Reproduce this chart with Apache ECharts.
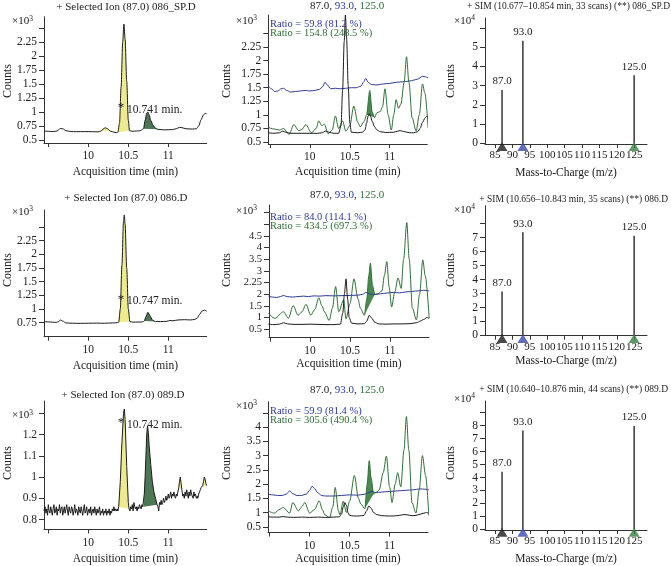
<!DOCTYPE html>
<html><head><meta charset="utf-8">
<script src="https://cdn.jsdelivr.net/npm/echarts@6/dist/echarts.min.js"></script>
<style>html,body{margin:0;padding:0;background:#fff}#c{width:671px;height:566px}</style>
</head><body><div id="c"></div>
<script>
// ---------------- DATA (counts in x10^3 for chromatograms, x10^4 for spectra) -------------
const chromTicks = [9.5, 10, 10.5, 11];
const chromLabels = [10, 10.5, 11];
const mzTicks = [85, 90, 95, 100, 105, 110, 115, 120, 125];
const mzIons = [87, 93, 125];

// Row 1: 086_SP.D
const p1Ion87 = [[9.446,0.66],[9.5,0.655],[9.56,0.65],[9.61,0.66],[9.65,0.705],[9.68,0.7],[9.72,0.665],[9.78,0.65],[9.85,0.648],[9.95,0.65],[10.05,0.648],[10.12,0.645],[10.16,0.66],[10.19,0.7],[10.21,0.718],[10.24,0.7],[10.28,0.655],[10.32,0.64],[10.35,0.63],[10.37,0.64],[10.39,0.8],[10.41,1.45],[10.43,2.25],[10.445,2.57],[10.46,2.3],[10.48,1.55],[10.5,0.85],[10.515,0.665],[10.55,0.655],[10.6,0.66],[10.65,0.665],[10.69,0.7],[10.71,0.85],[10.73,0.98],[10.745,1.0],[10.76,0.95],[10.78,0.85],[10.81,0.76],[10.84,0.71],[10.87,0.69],[10.95,0.68],[11.05,0.685],[11.1,0.7],[11.14,0.725],[11.17,0.72],[11.22,0.7],[11.3,0.695],[11.35,0.7],[11.38,0.75],[11.41,0.86],[11.44,0.95],[11.46,0.975],[11.48,0.965]];
const p1Fills = [[10.16,10.28,'y'],[10.37,10.515,'y'],[10.69,10.87,'g']];

const p2Ion87 = [[9.48,0.67],[9.55,0.66],[9.62,0.67],[9.66,0.7],[9.7,0.68],[9.76,0.66],[9.9,0.66],[10.0,0.66],[10.1,0.66],[10.15,0.67],[10.2,0.7],[10.24,0.68],[10.3,0.66],[10.36,0.66],[10.39,0.8],[10.41,1.45],[10.43,2.35],[10.445,2.84],[10.46,2.4],[10.48,1.55],[10.5,0.85],[10.52,0.68],[10.6,0.67],[10.66,0.68],[10.69,0.72],[10.71,0.85],[10.73,0.98],[10.745,1.02],[10.76,0.97],[10.78,0.88],[10.81,0.78],[10.84,0.72],[10.88,0.69],[10.95,0.675],[11.05,0.68],[11.1,0.7],[11.13,0.71],[11.17,0.695],[11.25,0.67],[11.3,0.67],[11.35,0.69],[11.38,0.75],[11.41,0.86],[11.44,0.94],[11.46,0.97],[11.48,0.96]];
const p2Ion93 = [[9.48,1.53],[9.52,1.48],[9.56,1.43],[9.6,1.44],[9.64,1.48],[9.67,1.49],[9.71,1.45],[9.76,1.42],[9.82,1.43],[9.88,1.44],[9.94,1.45],[10.0,1.44],[10.06,1.45],[10.12,1.47],[10.16,1.52],[10.19,1.6],[10.22,1.55],[10.26,1.48],[10.32,1.49],[10.38,1.48],[10.45,1.49],[10.52,1.5],[10.58,1.5],[10.64,1.53],[10.67,1.6],[10.7,1.67],[10.73,1.6],[10.77,1.56],[10.84,1.55],[10.92,1.57],[11.0,1.58],[11.08,1.6],[11.16,1.61],[11.24,1.62],[11.3,1.64],[11.35,1.66],[11.41,1.71],[11.45,1.7],[11.48,1.68]];
const p2Ion125 = [[9.48,0.77],[9.55,0.74],[9.62,0.72],[9.67,0.75],[9.74,0.64],[9.8,0.82],[9.86,0.71],[9.9,0.73],[9.95,0.82],[10.02,0.67],[10.08,0.75],[10.11,0.89],[10.15,0.8],[10.18,0.83],[10.23,0.65],[10.28,0.72],[10.32,0.98],[10.36,0.75],[10.41,0.89],[10.45,0.7],[10.5,0.8],[10.55,1.16],[10.6,0.86],[10.63,0.78],[10.68,0.88],[10.71,1.0],[10.75,1.45],[10.78,1.05],[10.81,0.95],[10.84,1.04],[10.88,1.06],[10.91,1.15],[10.94,1.48],[10.98,1.0],[11.02,0.72],[11.05,1.0],[11.08,1.28],[11.11,1.12],[11.14,1.2],[11.18,1.6],[11.21,2.07],[11.24,1.6],[11.28,0.95],[11.33,0.7],[11.37,1.0],[11.41,1.57],[11.44,1.4],[11.48,0.76]];
const p2Fills = [[10.71,10.81,'m']];
const p3Counts = [2.78, 5.34, 3.54];

// Row 2: 086.D
const p4Ion87 = [[9.446,0.77],[9.5,0.765],[9.55,0.76],[9.6,0.755],[9.63,0.77],[9.65,0.8],[9.68,0.78],[9.72,0.745],[9.8,0.74],[9.9,0.738],[10.0,0.74],[10.1,0.742],[10.2,0.74],[10.3,0.745],[10.36,0.75],[10.38,0.76],[10.4,1.0],[10.42,1.8],[10.44,2.6],[10.45,2.72],[10.46,2.55],[10.48,1.75],[10.5,1.0],[10.52,0.77],[10.56,0.76],[10.62,0.762],[10.68,0.765],[10.7,0.78],[10.72,0.86],[10.745,0.94],[10.77,0.88],[10.8,0.8],[10.84,0.77],[10.9,0.77],[10.98,0.775],[11.02,0.79],[11.06,0.785],[11.12,0.8],[11.2,0.805],[11.28,0.8],[11.33,0.81],[11.36,0.83],[11.39,0.9],[11.42,0.96],[11.45,0.98],[11.48,0.96]];
const p4Fills = [[10.38,10.52,'y'],[10.7,10.84,'g']];

const p5Ion87 = [[9.48,0.72],[9.55,0.7],[9.62,0.72],[9.67,0.78],[9.72,0.73],[9.8,0.71],[9.9,0.71],[10.0,0.72],[10.1,0.71],[10.2,0.7],[10.3,0.7],[10.38,0.72],[10.41,1.2],[10.43,2.0],[10.45,2.66],[10.47,1.8],[10.49,1.0],[10.52,0.76],[10.6,0.73],[10.68,0.74],[10.71,0.85],[10.74,1.1],[10.77,0.98],[10.81,0.8],[10.86,0.73],[10.95,0.72],[11.05,0.73],[11.15,0.73],[11.25,0.74],[11.33,0.78],[11.38,0.85],[11.42,0.92],[11.46,1.0],[11.49,0.98]];
const p5Ion93 = [[9.48,1.92],[9.53,1.88],[9.58,1.86],[9.63,1.9],[9.67,1.95],[9.71,1.9],[9.78,1.88],[9.85,1.9],[9.92,1.92],[9.98,1.9],[10.05,1.93],[10.12,1.92],[10.2,1.94],[10.3,1.93],[10.4,1.94],[10.5,1.95],[10.6,1.96],[10.66,2.0],[10.7,2.08],[10.74,2.02],[10.8,1.98],[10.88,2.02],[10.96,2.05],[11.04,2.08],[11.12,2.06],[11.2,2.1],[11.28,2.12],[11.36,2.15],[11.42,2.17],[11.49,2.14]];
const p5Ion125 = [[9.48,1.19],[9.56,0.97],[9.67,1.25],[9.73,0.97],[9.79,1.51],[9.85,1.1],[9.9,1.25],[9.95,1.57],[10.01,1.1],[10.06,1.35],[10.11,1.85],[10.15,1.5],[10.18,1.25],[10.24,0.88],[10.28,1.4],[10.32,2.33],[10.36,1.25],[10.42,1.76],[10.45,0.95],[10.5,1.6],[10.55,2.66],[10.6,1.8],[10.63,1.4],[10.68,1.1],[10.71,1.8],[10.735,2.8],[10.755,3.33],[10.78,2.4],[10.81,2.0],[10.85,2.02],[10.9,2.15],[10.93,2.8],[10.96,3.4],[10.99,2.3],[11.02,1.45],[11.06,2.1],[11.1,2.7],[11.14,2.25],[11.17,3.5],[11.21,5.07],[11.24,3.5],[11.28,1.4],[11.33,0.9],[11.37,2.0],[11.41,3.47],[11.44,2.8],[11.49,0.97]];
const p5Fills = [[10.68,10.81,'m']];
const p6Counts = [3.14, 7.38, 7.14];

// Row 3: 089.D
const p7Ion87 = [[9.446,0.84],[9.45,0.85],[9.46,0.86],[9.47,0.83],[9.48,0.85],[9.49,0.82],[9.5,0.87],[9.51,0.84],[9.52,0.83],[9.53,0.86],[9.54,0.84],[9.55,0.82],[9.56,0.85],[9.57,0.87],[9.58,0.83],[9.59,0.84],[9.6,0.86],[9.61,0.82],[9.62,0.85],[9.63,0.84],[9.64,0.87],[9.65,0.83],[9.66,0.85],[9.67,0.86],[9.68,0.82],[9.69,0.84],[9.7,0.86],[9.71,0.83],[9.72,0.85],[9.73,0.87],[9.74,0.84],[9.75,0.82],[9.76,0.86],[9.77,0.84],[9.78,0.83],[9.79,0.86],[9.8,0.85],[9.81,0.82],[9.82,0.84],[9.83,0.87],[9.84,0.83],[9.85,0.85],[9.86,0.84],[9.87,0.82],[9.88,0.86],[9.89,0.84],[9.9,0.83],[9.91,0.86],[9.92,0.84],[9.93,0.82],[9.94,0.85],[9.95,0.87],[9.96,0.83],[9.97,0.84],[9.98,0.86],[9.99,0.82],[10.0,0.84],[10.01,0.85],[10.02,0.83],[10.03,0.86],[10.04,0.82],[10.05,0.84],[10.06,0.85],[10.07,0.83],[10.08,0.86],[10.09,0.84],[10.1,0.82],[10.11,0.85],[10.12,0.83],[10.13,0.84],[10.14,0.86],[10.15,0.82],[10.16,0.84],[10.17,0.83],[10.18,0.85],[10.19,0.82],[10.2,0.84],[10.21,0.83],[10.22,0.85],[10.23,0.82],[10.24,0.84],[10.25,0.83],[10.26,0.85],[10.27,0.82],[10.28,0.84],[10.29,0.83],[10.3,0.85],[10.31,0.84],[10.32,0.86],[10.33,0.84],[10.34,0.85],[10.35,0.84],[10.36,0.85],[10.37,0.84],[10.38,0.86],[10.4,0.98],[10.42,1.16],[10.44,1.3],[10.45,1.32],[10.46,1.27],[10.48,1.05],[10.5,0.88],[10.51,0.85],[10.52,0.84],[10.53,0.86],[10.54,0.85],[10.55,0.87],[10.56,0.84],[10.57,0.88],[10.58,0.86],[10.59,0.85],[10.6,0.86],[10.61,0.84],[10.62,0.86],[10.63,0.85],[10.64,0.87],[10.65,0.86],[10.66,0.85],[10.67,0.87],[10.68,0.86],[10.69,0.86],[10.7,0.92],[10.71,1.0],[10.72,1.1],[10.73,1.2],[10.74,1.24],[10.75,1.21],[10.76,1.15],[10.78,1.06],[10.8,0.98],[10.82,0.93],[10.84,0.9],[10.86,0.87],[10.87,0.86],[10.88,0.84],[10.89,0.88],[10.9,0.87],[10.91,0.89],[10.92,0.87],[10.93,0.88],[10.94,0.9],[10.95,0.88],[10.96,0.89],[10.97,0.91],[10.98,0.89],[10.99,0.9],[11.0,0.92],[11.01,0.9],[11.02,0.91],[11.03,0.93],[11.04,0.9],[11.05,0.92],[11.06,0.91],[11.07,0.93],[11.08,0.91],[11.09,0.9],[11.1,0.92],[11.11,0.91],[11.12,0.93],[11.13,0.95],[11.14,0.98],[11.15,1.0],[11.16,0.97],[11.17,0.94],[11.18,0.91],[11.19,0.92],[11.2,0.9],[11.21,0.93],[11.22,0.91],[11.23,0.94],[11.24,0.92],[11.25,0.9],[11.26,0.93],[11.27,0.91],[11.28,0.94],[11.29,0.92],[11.3,0.92],[11.31,0.9],[11.32,0.93],[11.33,0.91],[11.34,0.92],[11.35,0.9],[11.36,0.91],[11.37,0.9],[11.38,0.92],[11.39,0.93],[11.4,0.94],[11.41,0.95],[11.42,0.95],[11.43,0.96],[11.44,0.98],[11.45,1.0],[11.46,0.99],[11.47,0.97],[11.48,0.96]];
const p7Fills = [[10.38,10.51,'y'],[10.69,10.86,'g'],[11.13,11.17,'y'],[11.42,11.48,'y']];

const p8Ion87 = [[9.48,0.85],[9.55,0.84],[9.62,0.84],[9.67,0.86],[9.72,0.84],[9.8,0.83],[9.9,0.84],[10.0,0.83],[10.1,0.84],[10.2,0.83],[10.3,0.84],[10.37,0.85],[10.4,0.95],[10.42,1.2],[10.44,1.35],[10.46,1.25],[10.48,1.0],[10.5,0.9],[10.55,0.88],[10.62,0.88],[10.68,0.9],[10.71,1.05],[10.74,1.23],[10.77,1.15],[10.8,1.0],[10.84,0.93],[10.9,0.89],[10.98,0.88],[11.05,0.88],[11.12,0.9],[11.18,0.93],[11.22,0.92],[11.28,0.89],[11.33,0.9],[11.38,0.94],[11.43,0.98],[11.46,1.0],[11.49,0.97]];
const p8Ion93 = [[9.48,1.65],[9.54,1.62],[9.6,1.6],[9.66,1.6],[9.71,1.65],[9.75,1.76],[9.79,1.66],[9.84,1.6],[9.9,1.6],[9.96,1.65],[10.0,1.78],[10.03,1.92],[10.06,1.85],[10.1,1.7],[10.15,1.6],[10.2,1.58],[10.3,1.58],[10.4,1.6],[10.5,1.62],[10.6,1.61],[10.68,1.64],[10.74,1.7],[10.78,1.75],[10.82,1.7],[10.9,1.72],[11.0,1.74],[11.1,1.76],[11.2,1.78],[11.3,1.8],[11.38,1.83],[11.44,1.82],[11.49,1.8]];
const p8Ion125 = [[9.48,1.06],[9.56,0.98],[9.63,1.12],[9.67,1.18],[9.75,0.98],[9.79,1.35],[9.86,1.06],[9.9,1.2],[9.94,1.35],[10.0,0.98],[10.06,1.1],[10.12,1.41],[10.16,1.1],[10.19,0.92],[10.25,0.82],[10.29,1.2],[10.32,1.88],[10.36,1.06],[10.38,0.92],[10.42,1.4],[10.46,1.0],[10.5,1.4],[10.56,2.3],[10.61,1.5],[10.64,1.3],[10.69,1.13],[10.72,2.0],[10.745,2.82],[10.77,2.2],[10.8,1.65],[10.84,1.72],[10.87,1.8],[10.92,2.4],[10.96,2.98],[11.0,1.9],[11.03,1.35],[11.07,2.0],[11.1,2.4],[11.14,1.9],[11.18,3.2],[11.21,4.37],[11.24,3.2],[11.28,1.35],[11.33,0.98],[11.37,1.8],[11.41,3.0],[11.45,2.3],[11.49,0.9]];
const p8Fills = [[10.69,10.8,'m']];
const p9Counts = [4.45, 7.62, 7.98];

// ---------------- STYLE ----------------
const FONT = '"Liberation Serif","DejaVu Serif",serif';
const INK = '#222';
const BLACK = '#1c1c1c', BLUE = '#2d3a96', GREEN = '#2f6e36';
const FILL = {y: '#eeea8e', g: '#4d7753', m: '#4a8a52'};
const TRI = [BLACK, '#3a49ab', '#3a7d3e'];

const panels = [
  {l:44, t:16.7, w:162.7, h:126.3, x:[9.446,11.48], y:[0.446,2.70], yt:[0.5,0.75,1,1.25,1.5,1.75,2,2.25,2.5], yl:[0.5,0.75,1,1.25,1.5,1.75,2,2.25], ng:22.5, kind:'c'},
  {l:268.3, t:15, w:159, h:129, x:[9.48,11.47], y:[0.463,2.84], yt:[0.5,0.75,1,1.25,1.5,1.75,2,2.25,2.5], yl:[0.5,0.75,1,1.25,1.5,1.75,2,2.25], ng:21.5, kind:'c'},
  {l:485, t:18, w:162, h:126, x:[82.1,128.7], y:[-0.03,6.52], yt:[0,1,2,3,4,5,6], yl:[0,1,2,3,4,5], ng:23, kind:'s'},
  {l:44, t:210, w:162.7, h:126.7, x:[9.446,11.48], y:[0.494,2.81], yt:[0.75,1,1.25,1.5,1.75,2,2.25,2.5], yl:[0.75,1,1.25,1.5,1.75,2,2.25], ng:23, kind:'c'},
  {l:269, t:205, w:160, h:132.7, x:[9.4875,11.4875], y:[0.14,5.82], yt:[0.5,1,1.5,2,2.5,3,3.5,4,4.5,5,5.5], yl:[0.5,1,1.5,2,2.5,3,3.5,4,4.5], ng:19.5, kind:'c', relabel:{2.5:'2.25'}, fs:10.5},
  {l:485, t:205.7, w:162, h:130, x:[82.1,128.7], y:[-0.02,9.29], yt:[0,1,2,3,4,5,6,7,8], yl:[0,1,2,3,4,5,6,7], ng:19, kind:'s'},
  {l:44, t:401, w:162.7, h:130, x:[9.446,11.48], y:[0.753,1.358], yt:[0.8,0.9,1,1.1,1.2,1.3], yl:[0.8,0.9,1,1.1,1.2], ng:23.5, kind:'c'},
  {l:268, t:401.7, w:160, h:131.6, x:[9.48,11.48], y:[0.30,4.89], yt:[0.5,1,1.5,2,2.5,3,3.5,4,4.5], yl:[0.5,1,1.5,2,2.5,3,3.5,4], ng:20.5, kind:'c'},
  {l:485, t:401, w:162, h:129, x:[82.1,128.7], y:[-0.05,9.9], yt:[0,1,2,3,4,5,6,7,8,9], yl:[0,1,2,3,4,5,6,7,8], ng:23, kind:'s'}
];

const axisLineStyle = {color: '#333', width: 1};
const grids = [], xAxes = [], yAxes = [];
panels.forEach((p, i) => {
  grids.push({left: p.l, top: p.t, width: p.w, height: p.h, containLabel: false});
  const isS = p.kind === 's';
  xAxes.push({
    type: 'value', gridIndex: i, min: p.x[0], max: p.x[1],
    axisLine: {show: true, onZero: false, lineStyle: axisLineStyle},
    axisTick: {show: true, length: 4, lineStyle: axisLineStyle, customValues: isS ? mzTicks : chromTicks},
    axisLabel: {customValues: isS ? mzTicks : chromLabels, fontFamily: FONT, fontSize: isS ? 11 : 11.5, color: INK, margin: isS ? 6 : 7,
      hideOverlap: false, showMinLabel: true, showMaxLabel: true, formatter: v => String(v)},
    splitLine: {show: false},
    name: isS ? 'Mass-to-Charge (m/z)' : 'Acquisition time (min)', nameLocation: 'middle', nameGap: p.ng,
    nameTextStyle: {fontFamily: FONT, fontSize: 11.5, color: INK}
  });
  yAxes.push({
    type: 'value', gridIndex: i, min: p.y[0], max: p.y[1],
    axisLine: {show: true, onZero: false, lineStyle: axisLineStyle},
    axisTick: {show: true, length: 5, lineStyle: axisLineStyle, customValues: p.yt},
    axisLabel: {customValues: p.yl, fontFamily: FONT, fontSize: p.fs || 11.5, lineHeight: 9, color: INK, margin: 7,
      hideOverlap: false, showMinLabel: true, showMaxLabel: true,
      formatter: v => (p.relabel && p.relabel[v]) ? p.relabel[v] : String(v)},
    splitLine: {show: false}
  });
});

const series = [];
function trace(i, data, color, smooth) {
  series.push({type: 'line', xAxisIndex: i, yAxisIndex: i, data: data, symbol: 'none', showSymbol: false,
    smooth: smooth, smoothMonotone: 'x', lineStyle: {color: color, width: 1}, z: 4, silent: true, clip: true});
}
function fills(i, data, list) {
  list.forEach(f => {
    const pts = data.filter(d => d[0] >= f[0] - 1e-9 && d[0] <= f[1] + 1e-9);
    series.push({type: 'custom', xAxisIndex: i, yAxisIndex: i, data: pts, clip: true, z: 2, silent: true,
      encode: {x: 0, y: 1},
      renderItem: function (params, api) {
        if (params.dataIndex !== 0) return null;
        return {type: 'polygon', shape: {points: pts.map(d => api.coord(d))}, style: {fill: FILL[f[2]], stroke: null}};
      }});
  });
}
function spectrum(i, counts) {
  series.push({type: 'bar', xAxisIndex: i, yAxisIndex: i, barWidth: 1.4, silent: true,
    data: mzIons.map((m, k) => [m, counts[k]]), itemStyle: {color: '#2a2a2a'},
    label: {show: true, position: 'top', distance: 3, fontFamily: FONT, fontSize: 11, color: INK,
      formatter: p => p.value[0].toFixed(1)}});
  mzIons.forEach((m, k) => {
    series.push({type: 'scatter', xAxisIndex: i, yAxisIndex: i, data: [[m, 0]], symbol: 'triangle',
      symbolSize: [11, 9], symbolOffset: [0, 3], itemStyle: {color: TRI[k]}, clip: false, z: 6, silent: true});
  });
}

fills(0, p1Ion87, p1Fills); trace(0, p1Ion87, BLACK, 0.3);
fills(1, p2Ion125, p2Fills); trace(1, p2Ion93, BLUE, 0.3); trace(1, p2Ion125, GREEN, 0.3); trace(1, p2Ion87, BLACK, 0.3);
spectrum(2, p3Counts);
fills(3, p4Ion87, p4Fills); trace(3, p4Ion87, BLACK, 0.3);
fills(4, p5Ion125, p5Fills); trace(4, p5Ion93, BLUE, 0.3); trace(4, p5Ion125, GREEN, 0.3); trace(4, p5Ion87, BLACK, 0.3);
spectrum(5, p6Counts);
fills(6, p7Ion87, p7Fills); trace(6, p7Ion87, BLACK, false);
fills(7, p8Ion125, p8Fills); trace(7, p8Ion93, BLUE, 0.3); trace(7, p8Ion125, GREEN, 0.3); trace(7, p8Ion87, BLACK, 0.3);
spectrum(8, p9Counts);

// ---------------- TEXT ----------------
const g = [];
function txt(x, y, text, opt) {
  opt = opt || {};
  g.push({type: 'text', x: x, y: y, rotation: opt.rot || 0, silent: true, z: 10,
    style: Object.assign({text: text, fontFamily: FONT, fontSize: opt.size || 11, fill: opt.color || INK,
      align: opt.align || 'center', verticalAlign: 'middle'}, opt.rich ? {rich: opt.rich} : {})});
}
const sup = {s: {fontFamily: FONT, fontSize: 7.5, fill: INK, verticalAlign: 'top', padding: [0, 0, 5, 0]}};
const ionRich = {k: {fontFamily: FONT, fontSize: 11, fill: INK}, b: {fontFamily: FONT, fontSize: 11, fill: BLUE}, gg: {fontFamily: FONT, fontSize: 11, fill: GREEN}};

txt(126, 7, '+ Selected Ion (87.0) 086_SP.D');
txt(126, 198, '+ Selected Ion (87.0) 086.D');
txt(123, 395, '+ Selected Ion (87.0) 089.D');
txt(347, 6, '{k|87.0}, {b|93.0}, {gg|125.0}', {rich: ionRich});
txt(347, 195, '{k|87.0}, {b|93.0}, {gg|125.0}', {rich: ionRich});
txt(347, 390, '{k|87.0}, {b|93.0}, {gg|125.0}', {rich: ionRich});
txt(270, 24, 'Ratio = 59.8 (81.2 %)', {align: 'left', color: BLUE, size: 10.5});
txt(270, 33.5, 'Ratio = 154.8 (248.5 %)', {align: 'left', color: GREEN, size: 10.5});
txt(270, 217, 'Ratio = 84.0 (114.1 %)', {align: 'left', color: BLUE, size: 10.5});
txt(270, 226.5, 'Ratio = 434.5 (697.3 %)', {align: 'left', color: GREEN, size: 10.5});
txt(270, 411, 'Ratio = 59.9 (81.4 %)', {align: 'left', color: BLUE, size: 10.5});
txt(270, 420.5, 'Ratio = 305.6 (490.4 %)', {align: 'left', color: GREEN, size: 10.5});
txt(670, 6, '+ SIM (10.677\u201310.854 min, 33 scans) (**) 086_SP.D', {align: 'right', size: 9.5});
txt(668, 199, '+ SIM (10.656\u201310.843 min, 35 scans) (**) 086.D', {align: 'right', size: 9.5});
txt(668, 389, '+ SIM (10.640\u201310.876 min, 44 scans) (**) 089.D', {align: 'right', size: 9.5});

[[33, 21.5, '3'], [33, 212, '3'], [33, 415.5, '3'], [257, 21, '3'], [257, 211, '3'], [257, 406, '3'],
 [475, 21, '4'], [475, 210, '4'], [475, 399, '4']].forEach(m => txt(m[0], m[1], '\u00d710{s|' + m[2] + '}', {align: 'right', rich: sup, size: 11}));

[[8, 81], [8, 270], [8, 463], [227, 81], [227, 270], [227, 463], [451, 81], [451, 270], [451, 463]].forEach(c =>
  txt(c[0], c[1], 'Counts', {rot: Math.PI / 2, size: 12}));

txt(121, 108, '*', {size: 13});
txt(127, 110, '10.741 min.', {align: 'left', size: 11.5});
txt(121, 299.5, '*', {size: 13});
txt(127, 300.5, '10.747 min.', {align: 'left', size: 11.5});
txt(121, 423, '*', {size: 13});
txt(127, 425, '10.742 min.', {align: 'left', size: 11.5});

const chart = echarts.init(document.getElementById('c'), null, {renderer: 'canvas'});
chart.setOption({animation: false, backgroundColor: '#fff', grid: grids, xAxis: xAxes, yAxis: yAxes, series: series, graphic: g});
</script>
</body></html>
